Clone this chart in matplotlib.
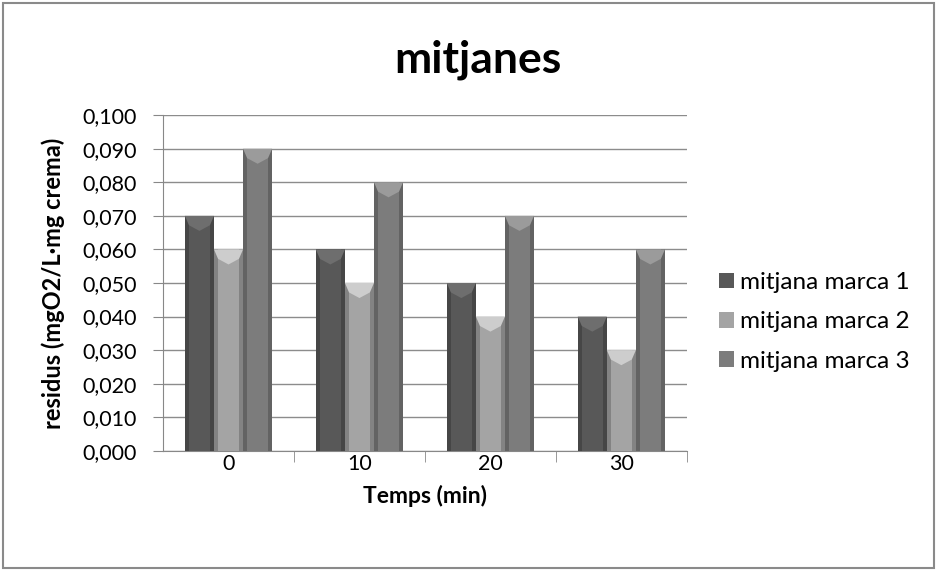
import matplotlib.pyplot as plt
from matplotlib.patches import Polygon, Rectangle
import numpy as np

# dades
temps = ['0', '10', '20', '30']
marca1 = [0.070, 0.060, 0.050, 0.040]
marca2 = [0.060, 0.050, 0.040, 0.030]
marca3 = [0.090, 0.080, 0.070, 0.060]
noms = ['mitjana marca 1', 'mitjana marca 2', 'mitjana marca 3']
colors = ['#585858', '#a4a4a4', '#7c7c7c']

plt.rcParams['font.family'] = ['Lato', 'DejaVu Sans']

fig = plt.figure(figsize=(9.37, 5.70), dpi=100)
ax = fig.add_axes([0.174, 0.209, 0.559, 0.589])

x = np.arange(len(temps))
w = 0.222


def fosc(c, f):
    r, g, b = [int(c[i:i + 2], 16) / 255 for i in (1, 3, 5)]
    return (min(r * f, 1), min(g * f, 1), min(b * f, 1))


# barres amb bisell
for k, (serie, col) in enumerate(zip([marca1, marca2, marca3], colors)):
    xs = x + (k - 1) * w
    ax.bar(xs, serie, w, color=col, edgecolor='none', zorder=3, label=noms[k])
    for xc, h in zip(xs, serie):
        x0, x1 = xc - w / 2, xc + w / 2
        s = w * 0.14
        bh = 0.0028
        ax.add_patch(Rectangle((x0, 0), s, h, color=fosc(col, 0.8), lw=0, zorder=4))
        ax.add_patch(Rectangle((x1 - s, 0), s, h, color=fosc(col, 0.8), lw=0, zorder=4))
        ax.add_patch(Polygon([(x0, h), (x1, h), (x1 - s, h - bh), (xc, h - bh * 1.6),
                              (x0 + s, h - bh)], closed=True,
                             color=fosc(col, 1.25), lw=0, zorder=5))

ax.set_xlim(-0.5, 3.5)
ax.set_ylim(0, 0.1)
ax.set_yticks(np.arange(0, 0.1001, 0.01))
ax.set_yticklabels([f'{v:.3f}'.replace('.', ',') for v in np.arange(0, 0.1001, 0.01)],
                   fontsize=15.5)
ax.set_xticks(x)
ax.set_xticklabels(temps, fontsize=15.5)
ax.set_xticks([0.5, 1.5, 2.5, 3.5], minor=True)
ax.tick_params(axis='x', which='major', length=0, pad=2)
ax.tick_params(axis='x', which='minor', length=8, color='#888888', direction='out')
ax.tick_params(axis='y', length=7, color='#888888', direction='out', pad=12)

ax.grid(axis='y', color='#8c8c8c', lw=1, zorder=0)
ax.set_axisbelow(True)
for sp in ['top', 'right']:
    ax.spines[sp].set_visible(False)
for sp in ['left', 'bottom']:
    ax.spines[sp].set_color('#888888')

ax.set_xlabel('Temps (min)', fontsize=16.5, fontweight='bold', labelpad=8)
ax.set_ylabel('residus (mgO2/L·mg crema)', fontsize=17, fontweight='bold', labelpad=12)
fig.text(0.51, 0.895, 'mitjanes', ha='center', va='center', fontsize=32, fontweight='bold')

ax.legend(loc='center left', bbox_to_anchor=(1.02, 0.384), frameon=False, fontsize=17.5,
          handlelength=0.6, handleheight=0.6, handletextpad=0.25, labelspacing=0.75)

# marc del gràfic
fig.add_artist(Rectangle((0.003, 0.003), 0.994, 0.991, transform=fig.transFigure,
                         fill=False, edgecolor='#8a8a8a', lw=1.5))

fig.savefig('out.png', dpi=100)
